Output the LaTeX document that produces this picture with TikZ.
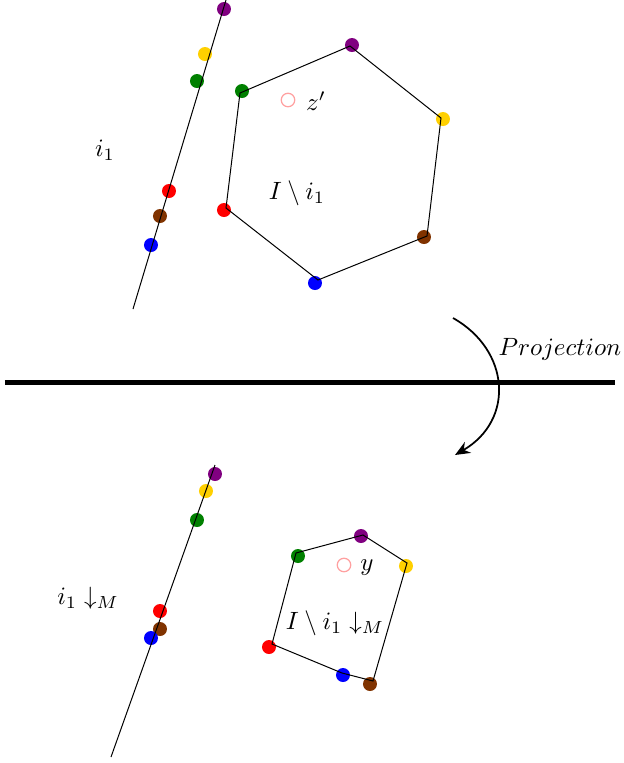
\documentclass[tikz,border=0pt]{standalone}
\usetikzlibrary{arrows.meta}
\definecolor{cpurple}{RGB}{128,0,128}
\definecolor{cyellow}{RGB}{255,208,0}
\definecolor{cgreen}{RGB}{0,128,0}
\definecolor{cred}{RGB}{255,0,0}
\definecolor{cbrown}{RGB}{128,51,0}
\definecolor{cblue}{RGB}{0,0,255}
\definecolor{cpink}{RGB}{255,160,160}
\tikzset{
  dot/.style={circle,fill=#1,inner sep=0pt,minimum size=5.6pt},
  hollow/.style={circle,draw=cpink,line width=0.5pt,inner sep=0pt,minimum size=5.4pt},
  edge/.style={line width=0.4pt,black},
  lbl/.style={inner sep=1pt}
}
\begin{document}
\begin{tikzpicture}[x=0.4pt,y=-0.4pt]
\useasboundingbox (0,0) rectangle (623,763);
% ---------- top line ----------
\node[dot=cpurple] (tp) at (224,9) {};
\node[dot=cyellow] (ty) at (205,54) {};
\node[dot=cgreen] (tg) at (197,81) {};
\node[dot=cred] (tr) at (169,191) {};
\node[dot=cbrown] (tb) at (160,216) {};
\node[dot=cblue] (tbl) at (151,245) {};
\coordinate (tl1) at (133,309);
\coordinate (tl2) at (226,0);
\draw[edge] (tl1) -- (tl2);
\node[lbl] (li1) at (105,150) {$i_1$};
% ---------- top hexagon ----------
\node[dot=cpurple] (hp) at (352,45) {};
\node[dot=cgreen] (hg) at (242,91) {};
\node[dot=cyellow] (hy) at (443,119) {};
\node[dot=cred] (hr) at (224,210) {};
\node[dot=cbrown] (hb) at (424,237) {};
\node[dot=cblue] (hbl) at (315,283) {};
\coordinate (cp) at (350,46);
\coordinate (cg) at (240,93);
\coordinate (cy) at (441,118);
\coordinate (cr) at (226,208);
\coordinate (cb) at (427,236);
\coordinate (cbl) at (318,280);
\draw[edge] (cg) -- (cp) -- (cy) -- (cb) -- (cbl) -- (cr) -- cycle;
\node[hollow] (zc) at (288,100) {};
\node[lbl] (zl) at (316,101) {$z'$};
\node[lbl] (hl) at (297,193) {$I\setminus i_1$};
% ---------- separator and projection arrow ----------
\coordinate (s1) at (5,382);
\coordinate (s2) at (615,382);
\draw[line width=2pt] (s1) -- (s2);
\coordinate (a1) at (453,318);
\coordinate (a2) at (455,455);
\draw[line width=0.7pt,-{Stealth[length=6pt,width=5pt]}] (a1) .. controls (510,350) and (515,420) .. (a2);
\node[lbl] (pl) at (560,349) {$Projection$};
% ---------- bottom line ----------
\node[dot=cpurple] (bp) at (215,474) {};
\node[dot=cyellow] (by) at (206,491) {};
\node[dot=cgreen] (bg) at (197,520) {};
\node[dot=cred] (br) at (160,611) {};
\node[dot=cbrown] (bb) at (160,629) {};
\node[dot=cblue] (bbl) at (151,638) {};
\coordinate (bl1) at (111,757);
\coordinate (bl2) at (215,465);
\draw[edge] (bl1) -- (bl2);
\node[lbl] (lbm) at (88,598) {$i_1\downarrow_M$};
% ---------- bottom polygon ----------
\node[dot=cpurple] (qp) at (361,536) {};
\node[dot=cgreen] (qg) at (298,556) {};
\node[dot=cyellow] (qy) at (406,566) {};
\node[dot=cred] (qr) at (269,647) {};
\node[dot=cblue] (qbl) at (343,675) {};
\node[dot=cbrown] (qb) at (370,684) {};
\coordinate (dp) at (363,535);
\coordinate (dg) at (296,553);
\coordinate (dy) at (407,563);
\coordinate (dr) at (272,644);
\coordinate (dbl) at (342,673);
\coordinate (db) at (373,681);
\draw[edge] (dg) -- (dp) -- (dy) -- (db) -- (dbl) -- (dr) -- cycle;
\node[hollow] (yc) at (344,565) {};
\node[lbl] (yl) at (367,568) {$y$};
\node[lbl] (ql) at (335,623) {$I\setminus i_1\downarrow_M$};
\end{tikzpicture}
\end{document}
